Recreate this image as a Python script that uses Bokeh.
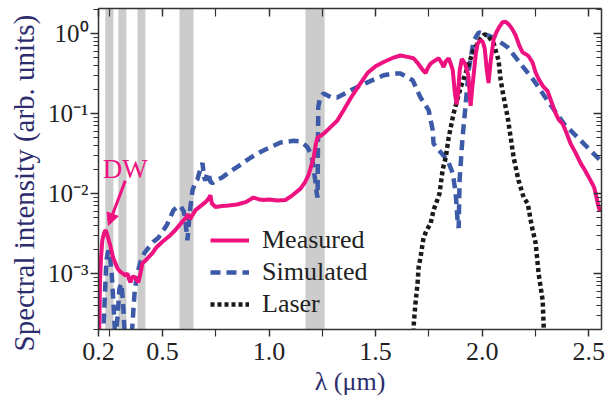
from bokeh.plotting import figure
from bokeh.models import (BoxAnnotation, Legend, LinearAxis, LogAxis, FixedTicker,
                          Arrow, NormalHead, Label, Title)
from bokeh.embed import file_html
from bokeh.resources import INLINE

# ---------------- data ----------------
measured_x = [0.203, 0.207, 0.212, 0.218, 0.226, 0.234, 0.242, 0.256, 0.268, 0.279, 0.290,
              0.303, 0.315, 0.326, 0.336, 0.343, 0.350, 0.360, 0.373, 0.380, 0.387, 0.395,
              0.406, 0.420, 0.435, 0.453, 0.470, 0.500, 0.530, 0.561, 0.585, 0.608, 0.620,
              0.630, 0.655, 0.680, 0.702, 0.715, 0.725, 0.732, 0.749, 0.780, 0.810, 0.850,
              0.890, 0.927, 0.950, 0.974, 1.000, 1.040, 1.077, 1.110, 1.148, 1.170, 1.185,
              1.200, 1.209, 1.220, 1.228, 1.245, 1.260, 1.290, 1.320, 1.350, 1.383, 1.420,
              1.462, 1.500, 1.538, 1.585, 1.617, 1.650, 1.678, 1.700, 1.711, 1.725, 1.735,
              1.745, 1.758, 1.780, 1.796, 1.810, 1.819, 1.830, 1.843, 1.855, 1.862, 1.872,
              1.880, 1.887, 1.895, 1.905, 1.920, 1.935, 1.946, 1.953, 1.960, 1.970, 1.979,
              1.990, 2.002, 2.012, 2.022, 2.030, 2.040, 2.054, 2.068, 2.080, 2.096, 2.110,
              2.125, 2.140, 2.157, 2.175, 2.190, 2.205, 2.218, 2.237, 2.250, 2.265, 2.285,
              2.307, 2.325, 2.345, 2.360, 2.378, 2.395, 2.415, 2.439, 2.462, 2.485, 2.509,
              2.525, 2.533, 2.540, 2.547, 2.552]
measured_y = [1.5e-4, 8e-4, 1.6e-3, 2.6e-3, 3.2e-3, 3.5e-3, 3.0e-3, 2.2e-3, 1.6e-3, 1.35e-3, 1.15e-3,
              1.05e-3, 1.0e-3, 9.5e-4, 1.0e-3, 8.5e-4, 7.8e-4, 9.2e-4, 8.9e-4, 8.2e-4, 7.8e-4, 9.5e-4,
              1.35e-3, 1.45e-3, 1.6e-3, 1.8e-3, 2.1e-3, 2.5e-3, 2.9e-3, 3.5e-3, 4.2e-3, 4.9e-3, 5.5e-3,
              4.8e-3, 6.2e-3, 7.0e-3, 7.8e-3, 8.5e-3, 9.5e-3, 7.5e-3, 6.8e-3, 7.0e-3, 7.1e-3, 7.3e-3,
              7.8e-3, 8.9e-3, 8.5e-3, 8.3e-3, 8.4e-3, 8.2e-3, 8.3e-3, 9.5e-3, 1.15e-2, 1.4e-2, 1.7e-2,
              2.3e-2, 2.8e-2, 4.2e-2, 5.0e-2, 5.3e-2, 5.7e-2, 6.8e-2, 8.1e-2, 1.1e-1, 1.55e-1, 2.2e-1,
              3.2e-1, 3.9e-1, 4.4e-1, 5.0e-1, 5.3e-1, 5.1e-1, 4.9e-1, 4.2e-1, 3.8e-1, 3.4e-1, 3.2e-1,
              3.7e-1, 4.2e-1, 4.6e-1, 4.9e-1, 4.3e-1, 3.8e-1, 4.5e-1, 4.9e-1, 4.0e-1, 3.5e-1, 1.8e-1,
              1.3e-1, 1.8e-1, 3.5e-1, 4.8e-1, 4.2e-1, 3.0e-1, 1.25e-1, 2.0e-1, 3.0e-1, 5.5e-1, 7.5e-1,
              8.1e-1, 8.0e-1, 6.5e-1, 3.5e-1, 2.4e-1, 4.5e-1, 8.5e-1, 1.05, 1.2, 1.38, 1.40,
              1.3, 1.15, 9.5e-1, 7.0e-1, 5.8e-1, 5.5e-1, 5.2e-1, 4.3e-1, 3.3e-1, 2.7e-1, 2.2e-1,
              1.9e-1, 1.4e-1, 1.0e-1, 8.3e-2, 7.4e-2, 5.8e-2, 4.2e-2, 3.2e-2, 2.4e-2, 1.9e-2, 1.45e-2,
              1.2e-2, 1.0e-2, 8.0e-3, 6.8e-3, 6.0e-3]

simulated_x = [0.221, 0.237, 0.246, 0.254, 0.262, 0.272, 0.279, 0.290, 0.298, 0.308, 0.316,
               0.324, 0.355, 0.362, 0.369, 0.380, 0.397, 0.415, 0.434, 0.458, 0.481, 0.520,
               0.552, 0.570, 0.585, 0.600, 0.608, 0.617, 0.622, 0.627, 0.641, 0.655, 0.664,
               0.675, 0.688, 0.695, 0.702, 0.710, 0.716, 0.725, 0.735, 0.760, 0.782, 0.820,
               0.857, 0.913, 0.960, 0.993, 1.054, 1.115, 1.140, 1.162, 1.180, 1.195, 1.205,
               1.212, 1.218, 1.224, 1.228, 1.231, 1.240, 1.256, 1.290, 1.320, 1.383, 1.462,
               1.538, 1.580, 1.617, 1.674, 1.711, 1.749, 1.768, 1.772, 1.796, 1.838, 1.862,
               1.876, 1.885, 1.890, 1.894, 1.908, 1.923, 1.937, 1.960, 1.984, 2.000, 2.054,
               2.120, 2.180, 2.242, 2.307, 2.383, 2.462, 2.542, 2.560]
simulated_y = [1.5e-4, 1.45e-3, 1.95e-3, 1.6e-3, 1.0e-3, 3.5e-4, 1.5e-4, 3.0e-4, 6.5e-4, 7.5e-4, 4.0e-4,
               1.5e-4, 1.5e-4, 3.0e-4, 5.6e-4, 9.5e-4, 1.4e-3, 1.8e-3, 2.1e-3, 2.5e-3, 2.8e-3, 4.0e-3,
               6.2e-3, 6.8e-3, 7.0e-3, 6.0e-3, 4.5e-3, 2.6e-3, 3.5e-3, 5.4e-3, 1.1e-2, 1.4e-2, 1.5e-2,
               1.9e-2, 2.4e-2, 1.6e-2, 1.45e-2, 1.8e-2, 1.8e-2, 1.4e-2, 1.35e-2, 1.5e-2, 1.6e-2, 1.9e-2,
               2.2e-2, 2.8e-2, 3.3e-2, 3.65e-2, 4.35e-2, 4.55e-2, 4.5e-2, 4.2e-2, 3.8e-2, 3.2e-2, 2.5e-2,
               1.8e-2, 1.4e-2, 1.0e-2, 8.9e-3, 1.2e-1, 1.6e-1, 1.78e-1, 1.6e-1, 1.58e-1, 1.95e-1, 2.45e-1,
               3.0e-1, 3.15e-1, 3.16e-1, 2.6e-1, 1.58e-1, 1.1e-1, 6.2e-2, 4.2e-2, 3.5e-2, 2.6e-2, 1.8e-2,
               1.0e-2, 4.5e-3, 3.7e-3, 1.45e-2, 5.0e-2, 1.33e-1, 3.5e-1, 8.1e-1, 1.03, 1.0, 8.9e-1,
               6.7e-1, 4.2e-1, 2.6e-1, 1.45e-1, 7.5e-2, 4.6e-2, 2.8e-2, 2.5e-2]

laser_x = [1.676, 1.680, 1.688, 1.697, 1.702, 1.711, 1.725, 1.740, 1.758, 1.772, 1.791,
           1.800, 1.815, 1.829, 1.843, 1.866, 1.899, 1.932, 1.960, 1.993, 2.010, 2.026,
           2.054, 2.077, 2.087, 2.101, 2.120, 2.134, 2.148, 2.171, 2.195, 2.214, 2.228,
           2.237, 2.251, 2.265, 2.284, 2.289, 2.292]
laser_y = [1.5e-4, 2.5e-4, 4.5e-4, 7.5e-4, 1.2e-3, 1.6e-3, 2.8e-3, 3.5e-3, 4.2e-3, 6.2e-3, 8.5e-3,
           1.0e-2, 2.0e-2, 2.8e-2, 5.0e-2, 1.0e-1, 2.1e-1, 3.8e-1, 6.2e-1, 8.7e-1, 9.7e-1, 9.5e-1,
           7.5e-1, 4.6e-1, 2.6e-1, 1.6e-1, 8.9e-2, 5.0e-2, 2.8e-2, 1.45e-2, 8.9e-3, 7.5e-3, 4.6e-3,
           3.5e-3, 2.4e-3, 1.0e-3, 4.6e-4, 2.1e-4, 1.5e-4]

band_left = [0.232, 0.293, 0.383, 0.580, 1.171]
band_right = [0.270, 0.331, 0.420, 0.646, 1.261]

x_ticks = [0.2, 0.5, 1.0, 1.5, 2.0, 2.5]
x_tick_labels = ["0.2", "0.5", "1.0", "1.5", "2.0", "2.5"]
x_minor_ticks = [0.25, 0.75, 1.25, 1.75, 2.25]
y_ticks = [1e-3, 1e-2, 1e-1, 1.0]
y_tick_labels = ["10\u207b\u00b3", "10\u207b\u00b2", "10\u207b\u00b9", "10\u2070"]
y_minor_ticks = [m * d for d in [1e-4, 1e-3, 1e-2, 1e-1, 1.0] for m in range(2, 10)]

x_title = "\u03bb (\u03bcm)"
y_title = "Spectral intensity (arb. units)"

dw_label = "DW"
dw_text_pos = (0.326, 0.0205)
dw_arrow_start = (0.326, 0.0145)
dw_arrow_end = (0.2465, 0.0040)

series_names = ["Measured", "Simulated", "Laser"]

# ---------------- styling ----------------
MAG = "#ee1280"
BLUE = "#3c5aa8"
BLACK = "#1a1a1a"
NAVY = "#2d2d6e"
FONT = "Liberation Serif"

p = figure(width=606, height=402, x_range=(0.2, 2.56), y_range=(2.0e-4, 2.05),
           y_axis_type="log", output_backend="svg", toolbar_location=None,
           min_border_left=98, min_border_right=5, min_border_top=8, min_border_bottom=73)
p.xgrid.visible = False
p.ygrid.visible = False
p.outline_line_color = None
p.background_fill_color = "white"
p.border_fill_color = "white"

for l, r in zip(band_left, band_right):
    p.add_layout(BoxAnnotation(left=l, right=r, fill_color="#cccccc", fill_alpha=1.0,
                               line_color=None, level="underlay"))

r_sim = p.line(simulated_x, simulated_y, line_color=BLUE, line_width=4.5, line_dash="10 6")
r_las = p.line(laser_x, laser_y, line_color=BLACK, line_width=4.5, line_dash="4 3")
r_mea = p.line(measured_x, measured_y, line_color=MAG, line_width=4)


def style_axis(ax):
    ax.axis_line_color = "#333333"
    ax.axis_line_width = 1.5
    ax.major_tick_line_color = "#333333"
    ax.minor_tick_line_color = "#333333"
    ax.major_tick_line_width = 1.5
    ax.minor_tick_line_width = 1.2
    ax.major_label_text_font = FONT
    ax.major_label_text_color = "#222222"
    ax.axis_label_text_font = FONT
    ax.axis_label_text_font_style = "normal"
    ax.axis_label_text_color = NAVY


xa = p.xaxis[0]
style_axis(xa)
xa.ticker = FixedTicker(ticks=x_ticks, minor_ticks=x_minor_ticks)
xa.major_label_overrides = {t: s for t, s in zip(x_ticks, x_tick_labels)}
xa.major_label_text_font_size = "26px"
xa.major_label_standoff = 6
xa.major_tick_out = 7
xa.major_tick_in = 0
xa.minor_tick_out = 7
xa.minor_tick_in = 0
xa.axis_label = x_title
xa.axis_label_text_font_size = "26px"
xa.axis_label_standoff = 4

ya = p.yaxis[0]
style_axis(ya)
ya.ticker = FixedTicker(ticks=y_ticks, minor_ticks=y_minor_ticks)
ya.major_label_overrides = {t: s for t, s in zip(y_ticks, y_tick_labels)}
ya.major_label_text_font_size = "25px"
ya.major_label_standoff = 2
ya.major_tick_out = 8
ya.major_tick_in = 0
ya.minor_tick_out = 5
ya.minor_tick_in = 0

# y title as a left-side title, starting a little below the frame as in the reference
p.add_layout(Title(text=y_title, align="left", offset=-22, standoff=11,
                   text_font=FONT, text_font_size="29px", text_font_style="normal",
                   text_color=NAVY), "left")

top = LinearAxis(ticker=FixedTicker(ticks=x_ticks, minor_ticks=x_minor_ticks))
style_axis(top)
top.major_label_text_font_size = "1px"
top.major_label_overrides = {t: "" for t in x_ticks}
top.major_label_standoff = 0
top.major_tick_in = 8
top.major_tick_out = 0
top.minor_tick_in = 8
top.minor_tick_out = 0
p.add_layout(top, "above")

right = LogAxis(ticker=FixedTicker(ticks=y_ticks, minor_ticks=y_minor_ticks))
style_axis(right)
right.major_label_text_font_size = "1px"
right.major_label_overrides = {t: "" for t in y_ticks}
right.major_label_standoff = 0
right.major_tick_in = 8
right.major_tick_out = 0
right.minor_tick_in = 5
right.minor_tick_out = 0
p.add_layout(right, "right")

legend = Legend(items=[(series_names[0], [r_mea]), (series_names[1], [r_sim]),
                       (series_names[2], [r_las])],
                location=(112, 9))
legend.label_text_font = FONT
legend.label_text_font_size = "26px"
legend.label_text_color = "#222222"
legend.glyph_width = 39
legend.glyph_height = 32
legend.label_height = 32
legend.label_standoff = 13
legend.spacing = 0
legend.padding = 0
legend.margin = 0
legend.border_line_color = None
legend.background_fill_alpha = 0
p.add_layout(legend)

p.add_layout(Arrow(end=NormalHead(size=12, fill_color=MAG, line_color=MAG, line_width=1),
                   x_start=dw_arrow_start[0], y_start=dw_arrow_start[1],
                   x_end=dw_arrow_end[0], y_end=dw_arrow_end[1],
                   line_color=MAG, line_width=3))
p.add_layout(Label(x=dw_text_pos[0], y=dw_text_pos[1], text=dw_label, text_align="center",
                   text_baseline="middle", text_font=FONT, text_font_size="27px",
                   text_color=MAG))

open("out.html", "w").write(file_html(p, INLINE))
